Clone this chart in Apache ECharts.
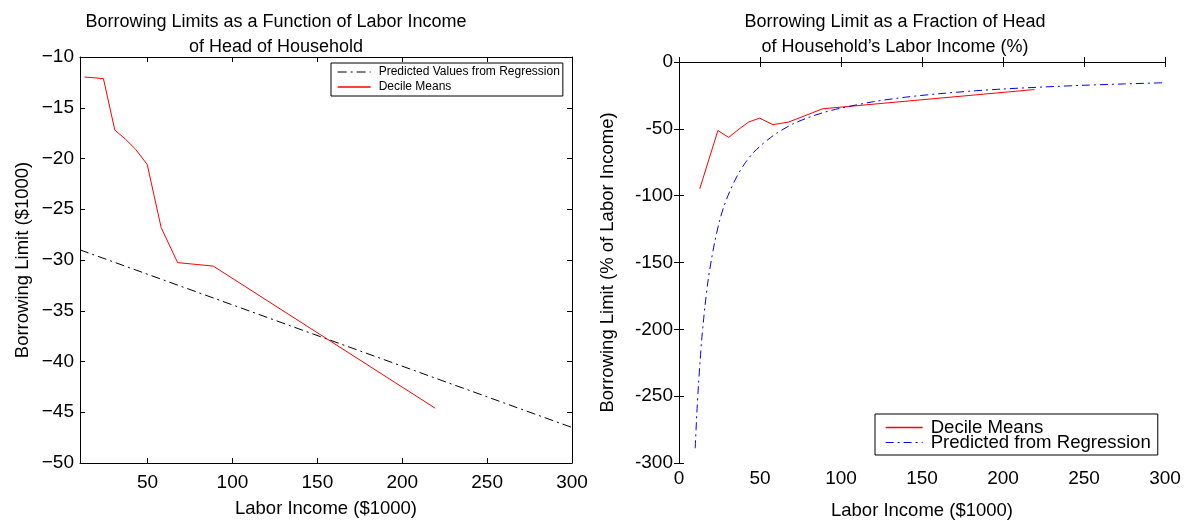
<!DOCTYPE html>
<html>
<head>
<meta charset="utf-8">
<script src="https://cdn.jsdelivr.net/npm/echarts@6/dist/echarts.min.js"></script>
<style>
  html, body { margin: 0; padding: 0; background: #fff; }
  #chart { width: 1188px; height: 525px; }
</style>
</head>
<body>
<div id="chart"></div>
<script>
// decile means (labor income, $1000)
const decileIncome = [12.8, 24, 30.7, 37, 43, 49.8, 58, 67.7, 88.7, 219.4];
// borrowing limit ($1000)
const decileLimit = [-11.97, -12.13, -17.2, -18.1, -19.1, -20.6, -26.8, -30.26, -30.6, -44.6];
// borrowing limit as % of labor income
const decilePct = [-94.9, -51.3, -56.4, -50.2, -44.9, -42.0, -46.9, -44.9, -35.0, -20.6];

// regression line (left panel)
const regIncome = [10.2, 300];
const regLimit = [-29.0, -46.5];

// regression curve (right panel)
const regPctIncome = [10, 11, 12, 13, 14, 15, 16, 18, 20, 22, 25, 28, 32, 36, 40, 45, 50, 55, 60, 70, 80, 90, 100, 120, 140, 160, 180, 200, 225, 250, 275, 300];
const regPct = [-289, -263, -242, -224, -208, -195, -183, -163, -148, -135, -119, -107, -95, -85, -77, -69, -63, -58, -53.5, -46.5, -41.5, -37.5, -34.5, -29.7, -26.3, -23.8, -21.8, -20.2, -18.7, -17.4, -16.4, -15.5];

const FONT = "Liberation Sans, Arial, Helvetica, sans-serif";

const zip = (xs, ys) => xs.map((x, i) => [x, ys[i]]);

const axisBase = {
  type: "value",
  axisLine: { show: true, lineStyle: { color: "#000", width: 1 } },
  axisTick: { show: true, inside: true, length: 5, lineStyle: { color: "#000" } },
  splitLine: { show: false },
  axisLabel: { color: "#000", fontSize: 19, fontFamily: FONT },
  nameTextStyle: { color: "#000", fontSize: 18.5, fontFamily: FONT },
  nameLocation: "middle"
};

const mirror = (extra) => Object.assign({}, axisBase, { axisLabel: { show: false }, name: "" }, extra);

// legend marker: thin line only, no dot
const noDot = { color: "rgba(0,0,0,0)", borderWidth: 0, opacity: 0 };
const redLine = { color: "#ff0000", width: 1, type: "solid" };
const blackDashDot = { color: "#000", width: 1, type: [9, 4, 2, 4] };
const blueDashDot = { color: "#0000ff", width: 1, type: [8, 4, 2, 4] };
const legendRed = { color: "#ff0000", width: 1.3, type: "solid" };

const option = {
  animation: false,
  backgroundColor: "#fff",
  title: [
    {
      text: "Borrowing Limits as a Function of Labor Income\nof Head of Household",
      left: 271,
      top: 5,
      textAlign: "center",
      textStyle: { fontSize: 18, fontWeight: "normal", color: "#000", fontFamily: FONT, lineHeight: 25 }
    },
    {
      text: "Borrowing Limit as a Fraction of Head\nof Household\u2019s Labor Income (%)",
      left: 890,
      top: 5,
      textAlign: "center",
      textStyle: { fontSize: 18, fontWeight: "normal", color: "#000", fontFamily: FONT, lineHeight: 25 }
    }
  ],
  legend: [
    {
      data: [
        { name: "Predicted Values from Regression", itemStyle: noDot, lineStyle: blackDashDot },
        { name: "Decile Means", itemStyle: noDot, lineStyle: legendRed }
      ],
      orient: "vertical",
      left: 331,
      top: 63,
      itemWidth: 33,
      itemHeight: 12,
      itemGap: 3,
      padding: [3, 3, 3, 6],
      borderColor: "#000",
      borderWidth: 1,
      selectedMode: false,
      textStyle: { fontSize: 12, color: "#000", fontFamily: FONT, padding: [0, 0, 0, 3] }
    },
    {
      data: [
        { name: "Decile Means", itemStyle: noDot, lineStyle: legendRed },
        { name: "Predicted from Regression", itemStyle: noDot, lineStyle: blueDashDot }
      ],
      orient: "vertical",
      left: 875,
      top: 414,
      itemWidth: 37,
      itemHeight: 14,
      itemGap: -4,
      padding: [4, 7, 3, 10],
      borderColor: "#000",
      borderWidth: 1,
      selectedMode: false,
      textStyle: { fontSize: 18.6, color: "#000", fontFamily: FONT, padding: [0, 0, 0, 3] }
    }
  ],
  grid: [
    { left: 80, top: 57, width: 492, height: 406 },
    { left: 679, top: 62, width: 486, height: 402 }
  ],
  xAxis: [
    Object.assign({}, axisBase, {
      gridIndex: 0, min: 10.2, max: 300, splitNumber: 6,
      name: "Labor Income ($1000)", nameGap: 36,
      axisLabel: Object.assign({}, axisBase.axisLabel, {
        margin: 10,
        formatter: v => (Math.abs(v % 50) < 1e-6 ? String(v) : "")
      })
    }),
    mirror({ gridIndex: 0, min: 10.2, max: 300, splitNumber: 6, position: "top" }),
    Object.assign({}, axisBase, {
      gridIndex: 1, min: 0, max: 300, interval: 50,
      name: "Labor Income ($1000)", nameGap: 38,
      axisLabel: Object.assign({}, axisBase.axisLabel, { margin: 6 })
    }),
    mirror({ gridIndex: 1, min: 0, max: 300, interval: 50, position: "top" })
  ],
  yAxis: [
    Object.assign({}, axisBase, {
      gridIndex: 0, min: -50, max: -10, interval: 5,
      name: "Borrowing Limit ($1000)", nameGap: 48,
      axisLabel: Object.assign({}, axisBase.axisLabel, {
        margin: 6,
        formatter: v => String(v).replace("-", "\u2212")
      })
    }),
    mirror({ gridIndex: 0, min: -50, max: -10, interval: 5, position: "right" }),
    Object.assign({}, axisBase, {
      gridIndex: 1, min: -300, max: 0, interval: 50,
      name: "Borrowing Limit (% of Labor Income)", nameGap: 62,
      axisLabel: Object.assign({}, axisBase.axisLabel, { margin: 6 })
    }),
    mirror({ gridIndex: 1, min: -300, max: 0, interval: 50, position: "right" })
  ],
  series: [
    {
      name: "Predicted Values from Regression",
      type: "line",
      xAxisIndex: 0, yAxisIndex: 0,
      symbol: "none",
      lineStyle: blackDashDot,
      itemStyle: { color: "#000" },
      data: zip(regIncome, regLimit)
    },
    {
      name: "Decile Means",
      type: "line",
      xAxisIndex: 0, yAxisIndex: 0,
      symbol: "none",
      lineStyle: redLine,
      itemStyle: { color: "#ff0000" },
      data: zip(decileIncome, decileLimit)
    },
    {
      name: "Decile Means",
      type: "line",
      xAxisIndex: 2, yAxisIndex: 2,
      symbol: "none",
      lineStyle: redLine,
      itemStyle: { color: "#ff0000" },
      data: zip(decileIncome, decilePct)
    },
    {
      name: "Predicted from Regression",
      type: "line",
      xAxisIndex: 2, yAxisIndex: 2,
      symbol: "none",
      smooth: 0.3,
      lineStyle: blueDashDot,
      itemStyle: { color: "#0000ff" },
      data: zip(regPctIncome, regPct)
    }
  ]
};

const chart = echarts.init(document.getElementById("chart"), null, { renderer: "canvas" });
chart.setOption(option);
</script>
</body>
</html>
